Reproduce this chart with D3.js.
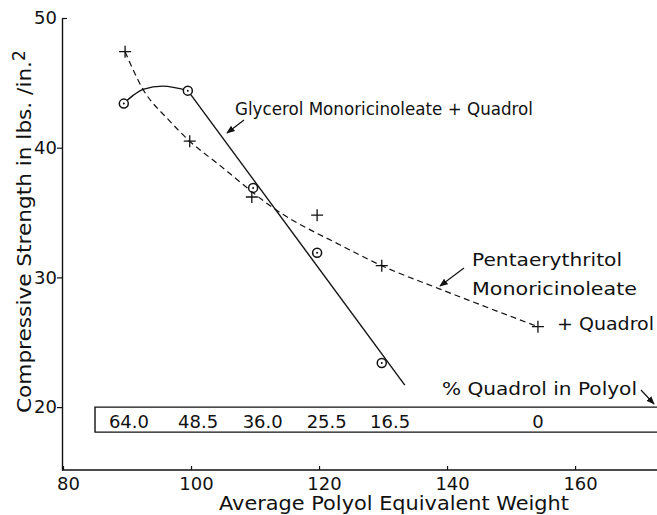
<!DOCTYPE html>
<html>
<head>
<meta charset="utf-8">
<script src="https://cdn.jsdelivr.net/npm/d3@7"></script>
<style>
  body { margin: 0; background: #fff; }
  svg { display: block; }
  text { font-family: "DejaVu Sans", sans-serif; fill: #111; }
</style>
</head>
<body>
<div id="chart"></div>
<script>
var width = 657, height = 515;

// Glycerol monoricinoleate + Quadrol (circles, solid line)
var glyWeight = [89.5, 99.5, 109.7, 119.7, 129.8];
var glyStrength = [43.4, 44.4, 36.9, 31.9, 23.4];
// hand drawn curve through the circles
var glyCurveX = [89.5, 91.0, 92.5, 95.6, 99.5, 133.4];
var glyCurveY = [43.4, 44.05, 44.5, 44.75, 44.4, 21.7];

// Pentaerythritol monoricinoleate + Quadrol (crosses, dashed line)
var pentaWeight = [89.7, 99.8, 109.5, 119.7, 129.8, 154.2];
var pentaStrength = [47.4, 40.5, 36.2, 34.8, 30.9, 26.2];
var pentaCurveX = [89.7, 92.5, 96.4, 99.8, 104.1, 113.6, 123.3, 129.8, 138.9, 154.2];
var pentaCurveY = [47.4, 44.5, 42.2, 40.5, 38.8, 35.1, 32.5, 30.9, 29.1, 26.2];

// % Quadrol in polyol table
var quadrolPct = ["64.0", "48.5", "36.0", "25.5", "16.5", "0"];
var quadrolAt = [90.3, 101.1, 111.2, 121.2, 131.1, 154.2];

var xTicks = [80, 100, 120, 140, 160];
var yTicks = [20, 30, 40, 50];

var margin = {left: 62, top: 18, bottom: 45};

var x = d3.scaleLinear().domain([80, 172.8]).range([margin.left + 1, width]);
var y = d3.scaleLinear().domain([15.15, 50]).range([height - margin.bottom, margin.top]);

var svg = d3.select("#chart").append("svg")
    .attr("width", width)
    .attr("height", height);

// axes
var xAxis = svg.append("g")
    .attr("transform", "translate(0," + y(15.15) + ")")
    .call(d3.axisBottom(x).tickValues(xTicks).tickSize(-4).tickPadding(7).tickSizeOuter(0));
xAxis.select(".domain").attr("stroke", "#111").attr("stroke-width", 1.4)
    .attr("d", "M" + (margin.left) + ",0H" + width);
xAxis.selectAll(".tick line").attr("stroke", "#111").attr("stroke-width", 1.2);
xAxis.selectAll(".tick text").attr("font-size", 18).attr("dx", 5).style("font-family", "DejaVu Sans");

var yAxis = svg.append("g")
    .attr("transform", "translate(" + margin.left + ",0)")
    .call(d3.axisLeft(y).tickValues(yTicks).tickSize(5).tickPadding(1).tickSizeOuter(0));
yAxis.select(".domain").attr("stroke", "#111").attr("stroke-width", 1.4);
yAxis.selectAll(".tick line").attr("stroke", "#111").attr("stroke-width", 1.2)
    .attr("x2", function(d) { return d === 50 ? 5 : -5; });
yAxis.selectAll(".tick text").attr("font-size", 18).attr("x", -5).style("font-family", "DejaVu Sans");

// axis titles
svg.append("text")
    .attr("x", 394).attr("y", 510)
    .attr("text-anchor", "middle")
    .attr("font-size", 19)
    .attr("textLength", 350)
    .attr("lengthAdjust", "spacingAndGlyphs")
    .text("Average  Polyol  Equivalent  Weight");

var yt = svg.append("text")
    .attr("transform", "translate(31,413) rotate(-90)")
    .attr("text-anchor", "start")
    .attr("font-size", 19);
yt.append("tspan")
    .attr("textLength", 352)
    .attr("lengthAdjust", "spacingAndGlyphs")
    .text("Compressive  Strength  in lbs. /in.");
yt.append("tspan").attr("dy", -6).attr("font-size", 17).text("2");

// % Quadrol box
var boxTop = y(20), boxBottom = boxTop + 25;
svg.append("path")
    .attr("d", "M" + (width + 2) + "," + boxTop + "H" + x(85) + "V" + boxBottom + "H" + (width + 2))
    .attr("fill", "none").attr("stroke", "#111").attr("stroke-width", 1.4);

svg.selectAll(".pct")
    .data(quadrolPct)
    .enter().append("text")
    .attr("class", "pct")
    .attr("x", function(d, i) { return x(quadrolAt[i]); })
    .attr("y", boxBottom - 4)
    .attr("text-anchor", "middle")
    .attr("font-size", 18)
    .text(function(d) { return d; });

// curves
var line = d3.line()
    .x(function(d) { return x(d[0]); })
    .y(function(d) { return y(d[1]); });

var glyPts = glyCurveX.map(function(v, i) { return [v, glyCurveY[i]]; });
svg.append("path")
    .attr("d", line.curve(d3.curveMonotoneX)(glyPts.slice(0, 5)))
    .attr("fill", "none").attr("stroke", "#111").attr("stroke-width", 1.4);
svg.append("path")
    .attr("d", line.curve(d3.curveLinear)(glyPts.slice(4)))
    .attr("fill", "none").attr("stroke", "#111").attr("stroke-width", 1.4);

var pentaPts = pentaCurveX.map(function(v, i) { return [v, pentaCurveY[i]]; });
svg.append("path")
    .attr("d", line.curve(d3.curveMonotoneX)(pentaPts))
    .attr("fill", "none").attr("stroke", "#111").attr("stroke-width", 1.2)
    .attr("stroke-dasharray", "6,4");

// markers
var circles = svg.selectAll(".gly")
    .data(glyWeight)
    .enter().append("g")
    .attr("class", "gly")
    .attr("transform", function(d, i) { return "translate(" + x(d) + "," + y(glyStrength[i]) + ")"; });
circles.append("circle").attr("r", 4.5).attr("fill", "#fff").attr("stroke", "#111").attr("stroke-width", 1.5);
circles.append("circle").attr("r", 1).attr("fill", "#111");

var crosses = svg.selectAll(".penta")
    .data(pentaWeight)
    .enter().append("path")
    .attr("class", "penta")
    .attr("d", function(d, i) {
        var cx = x(d), cy = y(pentaStrength[i]);
        return "M" + (cx - 6) + "," + cy + "H" + (cx + 6) + "M" + cx + "," + (cy - 6) + "V" + (cy + 6);
    })
    .attr("stroke", "#111").attr("stroke-width", 1.3);

// annotations
svg.append("defs").append("marker")
    .attr("id", "arr")
    .attr("viewBox", "0 0 10 10")
    .attr("refX", 9).attr("refY", 5)
    .attr("markerWidth", 7).attr("markerHeight", 7)
    .attr("orient", "auto")
    .append("path").attr("d", "M0,1 L10,5 L0,9 Z").attr("fill", "#111");

function arrow(x1, y1, x2, y2) {
    svg.append("line")
        .attr("x1", x1).attr("y1", y1).attr("x2", x2).attr("y2", y2)
        .attr("stroke", "#111").attr("stroke-width", 1.2)
        .attr("marker-end", "url(#arr)");
}

svg.append("text")
    .attr("x", 235).attr("y", 115)
    .attr("font-size", 18)
    .attr("textLength", 298)
    .attr("lengthAdjust", "spacingAndGlyphs")
    .text("Glycerol Monoricinoleate + Quadrol");
arrow(244, 120, 227, 133);

svg.append("text").attr("x", 472).attr("y", 266).attr("font-size", 18)
    .attr("textLength", 150).attr("lengthAdjust", "spacingAndGlyphs").text("Pentaerythritol");
svg.append("text").attr("x", 472).attr("y", 295).attr("font-size", 18)
    .attr("textLength", 165).attr("lengthAdjust", "spacingAndGlyphs").text("Monoricinoleate");
svg.append("text").attr("x", 557).attr("y", 330).attr("font-size", 18)
    .attr("textLength", 97).attr("lengthAdjust", "spacingAndGlyphs").text("+ Quadrol");
arrow(464, 268, 440, 286);

svg.append("text").attr("x", 442).attr("y", 395).attr("font-size", 18)
    .attr("textLength", 195).attr("lengthAdjust", "spacingAndGlyphs").text("% Quadrol in Polyol");
arrow(641, 390, 654, 404);
</script>
</body>
</html>
